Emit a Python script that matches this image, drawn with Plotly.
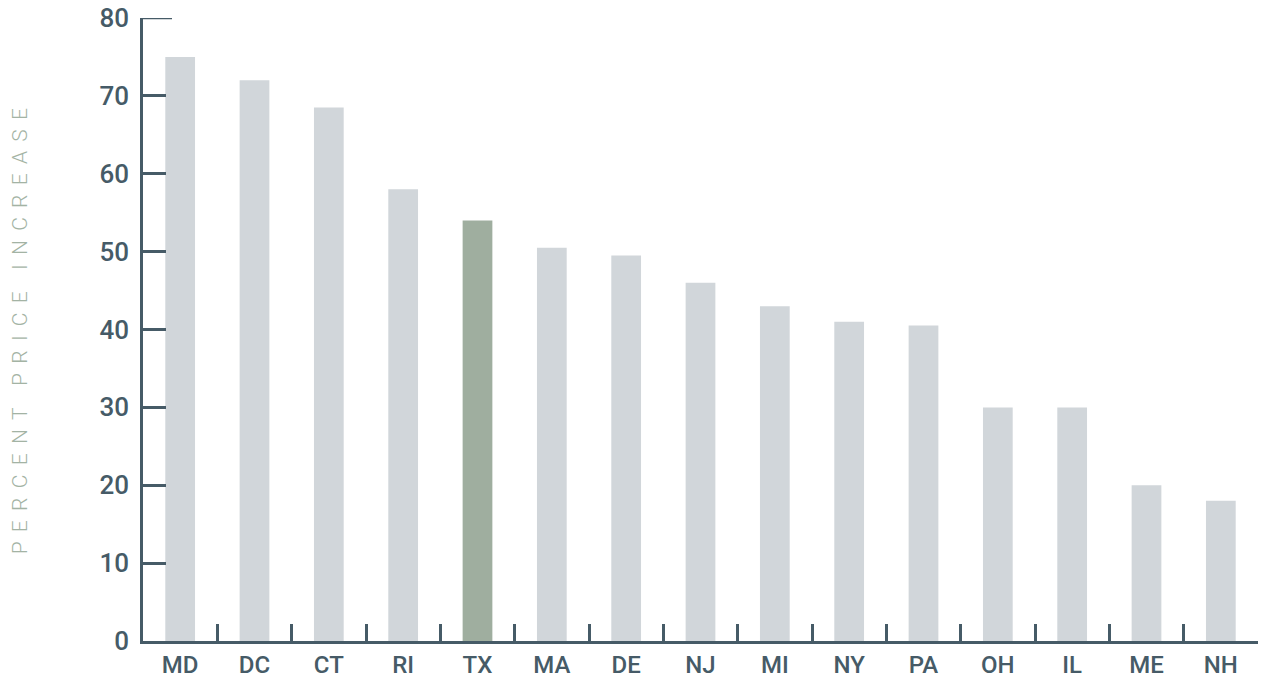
import plotly.graph_objects as go

states = ["MD", "DC", "CT", "RI", "TX", "MA", "DE", "NJ", "MI", "NY", "PA", "OH", "IL", "ME", "NH"]
increase = [75, 72, 68.5, 58, 54, 50.5, 49.5, 46, 43, 41, 40.5, 30, 30, 20, 18]
highlight = "TX"
y_ticks = [0, 10, 20, 30, 40, 50, 60, 70, 80]
y_title = "PERCENT PRICE INCREASE"

GRAY = "#d1d6da"
GREEN = "#9fae9f"
AXIS = "#465b67"

colors = [GREEN if s == highlight else GRAY for s in states]

# letter-spaced title (wide spaces between letters, wider gap between words)
LSEP = "\u2004\u200a"
WSEP = "\u2002\u2002"
spaced_title = WSEP.join(LSEP.join(w) for w in y_title.split(" "))

fig = go.Figure(go.Bar(x=states, y=increase, marker=dict(color=colors, line=dict(width=0)), width=0.4))

fig.update_layout(
    width=1265, height=681,
    margin=dict(l=143, r=7, t=18, b=40),
    plot_bgcolor="white", paper_bgcolor="white",
    showlegend=False,
)
fig.update_xaxes(
    range=[-0.5, 14.5], automargin=False,
    showline=True, linecolor=AXIS, linewidth=2.5,
    ticks="inside", tickson="boundaries", ticklen=17, tickwidth=2.5, tickcolor=AXIS,
    showgrid=False, zeroline=False,
    ticklabelstandoff=0,
    tickfont=dict(family="Roboto", size=24, color=AXIS, weight=500),
)
fig.update_yaxes(
    range=[0, 80], tickvals=y_ticks, automargin=False,
    showline=True, linecolor=AXIS, linewidth=2.5,
    ticks="inside", ticklen=23, tickwidth=2.5, tickcolor=AXIS,
    showgrid=False, zeroline=False,
    ticklabelstandoff=6,
    tickfont=dict(family="Roboto", size=26, color=AXIS, weight=500),
)
# longer top tick
fig.add_shape(type="line", xref="paper", yref="y", x0=0, x1=0.026, y0=80, y1=80,
              line=dict(color=AXIS, width=2.5))
fig.add_annotation(
    text=spaced_title,
    xref="paper", yref="paper", x=0, y=0.497, xshift=-123, textangle=-90,
    showarrow=False, xanchor="center", yanchor="middle",
    font=dict(family="Roboto", size=21, color="#a3b3a4", weight=300),
)

fig.write_html("out.html", config={"displayModeBar": False},
               post_script="document.body.style.margin='0';document.body.style.overflow='hidden';")
